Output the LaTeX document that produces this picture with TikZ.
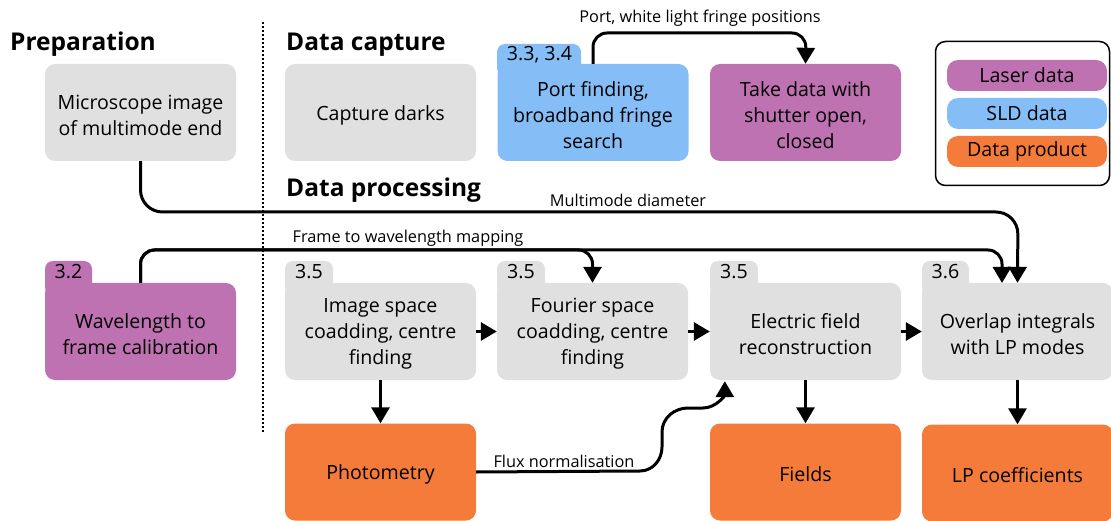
\documentclass[tikz,border=0pt]{standalone}
\usepackage{fontspec}
\setmainfont{Open Sans}
\usetikzlibrary{arrows.meta,calc}
\definecolor{boxgrey}{HTML}{E0E0E0}
\definecolor{sldblue}{HTML}{85BEF7}
\definecolor{laserpurple}{HTML}{BF72B2}
\definecolor{prodorange}{HTML}{F57B3B}
\begin{document}
\begin{tikzpicture}[x=1pt,y=-1pt,
  stepbox/.style={rounded corners=10pt, minimum width=191pt, minimum height=97pt, inner sep=0pt},
  boxtext/.style={inner sep=0pt, align=center, font=\fontsize{19.6}{26}\selectfont},
  tabfill/.style={rounded corners=8pt},
  tabtext/.style={inner sep=0pt, font=\fontsize{19.6}{22}\selectfont},
  legitem/.style={rounded corners=11pt, minimum width=160pt, minimum height=31pt, inner sep=0pt, font=\fontsize{19.6}{22}\selectfont},
  heading/.style={anchor=west, inner sep=0pt, font=\fontsize{24.5}{28}\bfseries\selectfont},
  smalllabel/.style={inner sep=0pt, font=\fontsize{16.3}{19}\selectfont},
  conn/.style={line width=3pt, -{Triangle[width=18pt,length=16pt]}, rounded corners=22pt},
]
\useasboundingbox (0,0) rectangle (1111,521);

% dotted divider
\draw[line width=1.6pt, dash pattern=on 2pt off 2pt] (263,22) -- (263,433);

% headings
\node[heading] (hprep) at (10,44.5) {Preparation};
\node[heading] (hcap) at (286,44.5) {Data capture};
\node[heading] (hproc) at (286,190.5) {Data processing};

% tabs
\fill[sldblue, tabfill] (497,44) rectangle (581,76);
\node[tabtext] (pftab) at (539.5,55) {3.3, 3.4};
\fill[laserpurple, tabfill] (45,261) rectangle (92,295);
\node[tabtext] (wltab) at (68.5,272) {3.2};
\fill[boxgrey, tabfill] (285,261) rectangle (333,295);
\node[tabtext] (istab) at (309,272) {3.5};
\fill[boxgrey, tabfill] (497,261) rectangle (545,295);
\node[tabtext] (fotab) at (521,272) {3.5};
\fill[boxgrey, tabfill] (710,261) rectangle (758,295);
\node[tabtext] (eftab) at (734,272) {3.5};
\fill[boxgrey, tabfill] (922,261) rectangle (969,295);
\node[tabtext] (ovtab) at (945.5,272) {3.6};

% boxes
\node[stepbox, fill=boxgrey] (mic) at (140.5,112.5) {};
\node[boxtext] (mict) at (140.5,115) {Microscope image\\of multimode end};
\node[stepbox, fill=boxgrey] (cd) at (380.5,112.5) {};
\node[boxtext] (cdt) at (380.5,115) {Capture darks};
\node[stepbox, fill=sldblue] (pf) at (593,112.5) {};
\node[boxtext] (pft) at (593,115) {Port finding,\\broadband fringe\\search};
\node[stepbox, fill=laserpurple] (td) at (805.5,112.5) {};
\node[boxtext] (tdt) at (805.5,115) {Take data with\\shutter open,\\closed};

\node[stepbox, fill=laserpurple] (wl) at (140.5,331.5) {};
\node[boxtext] (wlt) at (140.5,334) {Wavelength to\\frame calibration};
\node[stepbox, fill=boxgrey] (is) at (380.5,331.5) {};
\node[boxtext] (ist) at (380.5,334) {Image space\\coadding, centre\\finding};
\node[stepbox, fill=boxgrey] (fo) at (592.5,331.5) {};
\node[boxtext] (fot) at (592.5,334) {Fourier space\\coadding, centre\\finding};
\node[stepbox, fill=boxgrey] (ef) at (805.5,331.5) {};
\node[boxtext] (eft) at (805.5,334) {Electric field\\reconstruction};
\node[stepbox, fill=boxgrey] (ov) at (1017.5,331.5) {};
\node[boxtext] (ovt) at (1017.5,334) {Overlap integrals\\with LP modes};

\node[stepbox, fill=prodorange] (ph) at (380.5,472) {};
\node[boxtext] (pht) at (380.5,474.5) {Photometry};
\node[stepbox, fill=prodorange] (fi) at (805.5,472) {};
\node[boxtext] (fit) at (805.5,474.5) {Fields};
\node[stepbox, fill=prodorange] (lp) at (1017.5,473) {};
\node[boxtext] (lpt) at (1017.5,475.5) {LP coefficients};

% legend
\draw[line width=1.5pt, rounded corners=10pt] (935.5,41.5) rectangle (1109.5,185.5);
\node[legitem, fill=laserpurple] (leglaser) at (1027,75.5) {Laser data};
\node[legitem, fill=sldblue] (legsld) at (1027,113.5) {SLD data};
\node[legitem, fill=prodorange] (legprod) at (1027,151.5) {Data product};

% connectors
\draw[conn, rounded corners=14pt] (pf.north) |- (806,33) -- (td.north);
\node[smalllabel] (lblport) at (700,18) {Port, white light fringe positions};

\draw[conn] (mic.south) |- (1018,212) -- (ov.north);
\node[smalllabel] (lblmm) at (628,200) {Multimode diameter};

\draw[conn, rounded corners=14pt] (wl.north) |- (592.5,250) -- (fo.north);
\draw[conn, rounded corners=14pt] (wl.north) |- (1002,250) -- (1002,283);
\node[smalllabel] (lblfw) at (408,238) {Frame to wavelength mapping};

\draw[conn, rounded corners=0pt] (is.east) -- (fo.west);
\draw[conn, rounded corners=0pt] (fo.east) -- (ef.west);
\draw[conn, rounded corners=0pt] (ef.east) -- (ov.west);

\draw[conn, rounded corners=0pt] (is.south) -- (ph.north);
\draw[conn, rounded corners=0pt] (ef.south) -- (fi.north);
\draw[conn, rounded corners=0pt] (ov.south) -- (lp.north);

\coordinate (fluxtip) at ($(ef.south west)+(15,1)$);
\draw[conn, rounded corners=0pt] (ph.east) -- (640,471) to[out=0,in=-90] (662,447) -- (662,432) to[out=90,in=180] (688,408) -- (703,408) to[out=0,in=-90] (fluxtip);
\node[smalllabel] (lblflux) at (564,461) {Flux normalisation};
\end{tikzpicture}
\end{document}
